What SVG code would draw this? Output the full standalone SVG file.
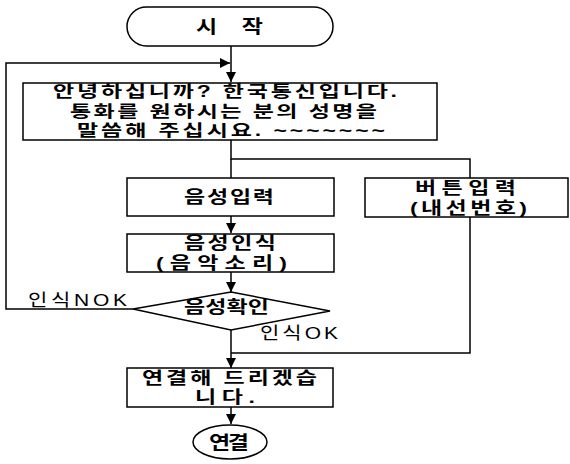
<svg xmlns="http://www.w3.org/2000/svg" width="570" height="464" viewBox="0 0 570 464">
<defs>
<style>
.s{fill:#fff;stroke:#000;stroke-width:1.5}
.c{fill:none;stroke:#000;stroke-width:1.5}
text{font-family:"Liberation Sans","Noto Sans CJK KR",sans-serif;font-size:23px;font-weight:bold;fill:#000;dominant-baseline:central}
.l{font-size:21px;font-weight:normal}
</style>
<marker id="ah" viewBox="0 0 10 10" refX="10" refY="5" markerWidth="10" markerHeight="10" markerUnits="userSpaceOnUse" orient="auto">
<path d="M0,0 L10,5 L0,10 Z" fill="#000"/>
</marker>
</defs>
<rect width="570" height="464" fill="#fff"/>
<g id="connectors">
<path class="c" d="M231,46 V82" marker-end="url(#ah)"/>
<path class="c" d="M133,309 H6 V63 H230" marker-end="url(#ah)"/>
<path class="c" d="M231,140 V159 H470 V178"/>
<path class="c" d="M231,159 V178"/>
<path class="c" d="M231,216 V233" marker-end="url(#ah)"/>
<path class="c" d="M231,272 V292" marker-end="url(#ah)"/>
<path class="c" d="M470,216 V353 H231"/>
<path class="c" d="M231,330 V368" marker-end="url(#ah)"/>
<path class="c" d="M231,407 V424" marker-end="url(#ah)"/>
</g>
<g id="start">
<rect class="s" x="127" y="7" width="206" height="39" rx="19.5"/>
<g transform="translate(0,26) scale(1,0.8)"><text x="196" y="0" textLength="67" lengthAdjust="spacing">시 작</text></g>
</g>
<g id="greeting">
<rect class="s" x="23" y="83" width="414" height="57"/>
<g transform="translate(0,91) scale(1,0.7)"><text x="53" y="0" textLength="344" lengthAdjust="spacing">안녕하십니까? 한국통신입니다.</text></g>
<g transform="translate(0,111) scale(1,0.7)"><text x="70" y="0" textLength="307" lengthAdjust="spacing">통화를 원하시는 분의 성명을</text></g>
<g transform="translate(0,130) scale(1,0.7)"><text x="77" y="0" textLength="308" lengthAdjust="spacing">말씀해 주십시요. ~~~~~~~</text></g>
</g>
<g id="voice-input">
<rect class="s" x="127" y="178" width="207" height="38"/>
<g transform="translate(0,197) scale(1,0.72)"><text x="184" y="0" textLength="90" lengthAdjust="spacing">음성입력</text></g>
</g>
<g id="button-input">
<rect class="s" x="365" y="178" width="203" height="39"/>
<g transform="translate(0,188) scale(1,0.72)"><text x="415" y="0" textLength="101" lengthAdjust="spacing">버튼입력</text></g>
<g transform="translate(0,208) scale(1,0.72)"><text x="410" y="0" textLength="117" lengthAdjust="spacing">(내선번호)</text></g>
</g>
<g id="voice-recognition">
<rect class="s" x="127" y="234" width="207" height="38"/>
<g transform="translate(0,243) scale(1,0.72)"><text x="184" y="0" textLength="92" lengthAdjust="spacing">음성인식</text></g>
<g transform="translate(0,263) scale(1,0.72)"><text x="156" y="0" textLength="131" lengthAdjust="spacing">(음악소리)</text></g>
</g>
<g id="voice-check">
<path class="s" d="M231,292 L330,311 L231,330 L133,309 Z"/>
<g transform="translate(0,307) scale(1,0.72)"><text x="184" y="0" textLength="85" lengthAdjust="spacing">음성확인</text></g>
</g>
<g id="labels">
<g transform="translate(0,300) scale(1,0.8)"><text class="l" x="28" y="0" textLength="99" lengthAdjust="spacing">인식NOK</text></g>
<g transform="translate(0,333) scale(1,0.8)"><text class="l" x="260" y="0" textLength="78" lengthAdjust="spacing">인식OK</text></g>
</g>
<g id="connect-msg">
<rect class="s" x="127" y="368" width="206" height="39"/>
<g transform="translate(0,378) scale(1,0.72)"><text x="142" y="0" textLength="175" lengthAdjust="spacing">연결해 드리겠습</text></g>
<g transform="translate(0,397) scale(1,0.72)"><text x="195" y="0" textLength="60" lengthAdjust="spacing">니다.</text></g>
</g>
<g id="end">
<ellipse class="s" cx="230" cy="442" rx="37" ry="17"/>
<g transform="translate(0,442) scale(1,0.8)"><text x="209" y="0" textLength="40" lengthAdjust="spacing">연결</text></g>
</g>
</svg>
